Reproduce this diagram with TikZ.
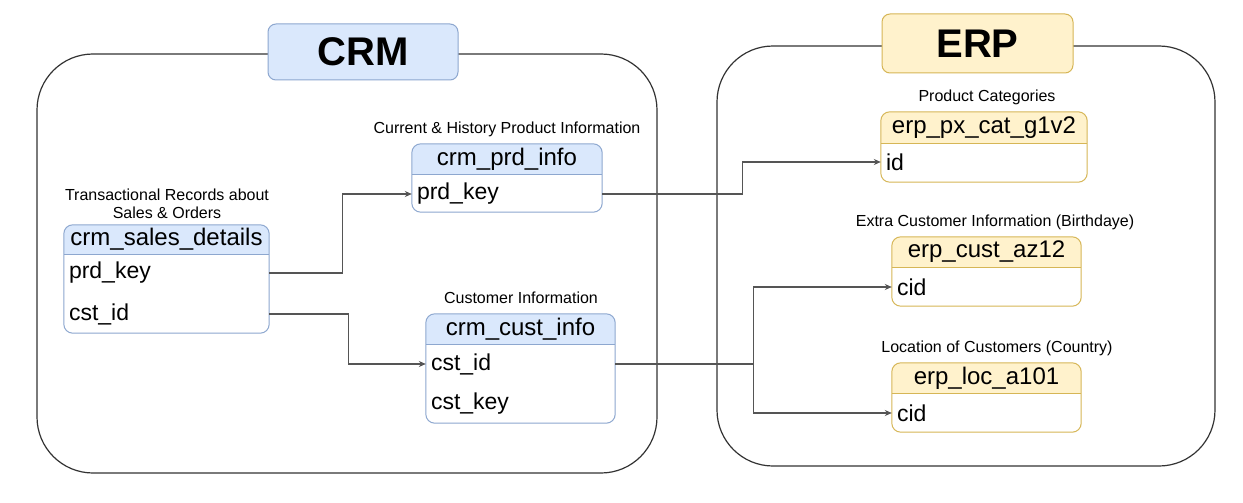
\documentclass[tikz,border=0pt]{standalone}
\usepackage{fontspec}
\setmainfont{Liberation Sans}
\usetikzlibrary{arrows.meta,calc}
\definecolor{bluefill}{HTML}{DAE8FC}
\definecolor{bluestroke}{HTML}{8DA7CF}
\definecolor{yelfill}{HTML}{FFF2CC}
\definecolor{yelstroke}{HTML}{D6B656}
\definecolor{conncol}{HTML}{555555}
\definecolor{boxcol}{HTML}{333333}
\tikzset{
  container/.style={draw=boxcol, line width=1.2pt, rounded corners=56pt, inner sep=0pt},
  titlebox/.style={rounded corners=8pt, line width=1pt, font=\fontsize{40}{44}\selectfont\bfseries, inner sep=0pt},
  hdrtext/.style={font=\fontsize{24}{28}\selectfont, inner sep=0pt},
  fieldtext/.style={font=\fontsize{23}{27}\selectfont, anchor=west, inner xsep=5pt, inner ysep=0pt},
  lbl/.style={font=\fontsize{16}{18.5}\selectfont, inner sep=0pt, align=center},
  conn/.style={draw=conncol, line width=1.4pt, -{Stealth[length=7pt,width=6pt]}},
  plainconn/.style={draw=conncol, line width=1.4pt},
}
% name, left, top, right, header bottom, bottom, fill, stroke, title
\newcommand{\dbtab}[9]{%
  \node[minimum width={#4-#2}, minimum height={#6-#3}, inner sep=0pt] (#1) at ({(#2+#4)/2},{(#3+#6)/2}) {};
  \begin{scope}
    \clip[rounded corners=9pt] (#1.north west) rectangle (#1.south east);
    \fill[#7] (#1.north west) rectangle (#1.east |- 0,#5);
  \end{scope}
  \draw[#8, line width=1pt] (#1.west |- 0,#5) -- (#1.east |- 0,#5);
  \draw[#8, line width=1pt, rounded corners=9pt] (#1.north west) rectangle (#1.south east);
  \node[hdrtext] (#1-h) at ({(#2+#4)/2},{(#3+#5)/2}) {#9};
}
\begin{document}
\begin{tikzpicture}[x=1pt, y=-1pt]
\useasboundingbox (0,0) rectangle (1243,503);
\fill[white] (0,0) rectangle (1243,503);

% containers
\node[container, minimum width=620, minimum height=419] (crmbox) at (347,263.5) {};
\node[container, minimum width=498, minimum height=420] (erpbox) at (966,256) {};

% titles
\node[titlebox, fill=bluefill, draw=bluestroke, minimum width=190, minimum height=56] (crmtitle) at (363,52) {CRM};
\node[titlebox, fill=yelfill, draw=yelstroke, minimum width=191, minimum height=59] (erptitle) at (977.5,43.5) {ERP};

% CRM tables
\dbtab{sales}{64}{225}{269}{254}{333}{bluefill}{bluestroke}{crm\_sales\_details}
\node[fieldtext] (sales-prd) at (sales.west |- 0,273) {prd\_key};
\node[fieldtext] (sales-cst) at (sales.west |- 0,314) {cst\_id};
\node[lbl] (sales-l) at (167,204) {Transactional Records about\\Sales \& Orders};

\dbtab{prd}{412}{144}{602}{174}{212}{bluefill}{bluestroke}{crm\_prd\_info}
\node[fieldtext] (prd-prd) at (prd.west |- 0,194) {prd\_key};
\node[lbl] (prd-l) at (507,129) {Current \& History Product Information};

\dbtab{cust}{426}{314}{615}{344}{423}{bluefill}{bluestroke}{crm\_cust\_info}
\node[fieldtext] (cust-cst) at (cust.west |- 0,364) {cst\_id};
\node[fieldtext] (cust-key) at (cust.west |- 0,404) {cst\_key};
\node[lbl] (cust-l) at (521,298) {Customer Information};

% ERP tables
\dbtab{px}{881}{112}{1087}{143}{182}{yelfill}{yelstroke}{erp\_px\_cat\_g1v2}
\node[fieldtext] (px-id) at (px.west |- 0,162) {id};
\node[lbl] (px-l) at (987,97) {Product Categories};

\dbtab{az}{892}{237}{1081}{267}{306}{yelfill}{yelstroke}{erp\_cust\_az12}
\node[fieldtext] (az-cid) at (az.west |- 0,287) {cid};
\node[lbl] (az-l) at (995,222) {Extra Customer Information (Birthdaye)};

\dbtab{loc}{892}{363}{1081}{393}{432}{yelfill}{yelstroke}{erp\_loc\_a101}
\node[fieldtext] (loc-cid) at (loc.west |- 0,413) {cid};
\node[lbl] (loc-l) at (997,348) {Location of Customers (Country)};

% connectors
\draw[conn] (sales-prd -| sales.east) -- ++(73,0) |- (prd-prd.west);
\draw[conn] (sales-cst -| sales.east) -- ++(79,0) |- (cust-cst.west);
\draw[conn] (prd-prd -| prd.east) -- ++(140,0) |- (px-id.west);
\draw[plainconn] (cust-cst -| cust.east) -- ++(138,0) coordinate (split);
\draw[conn] (split) |- (az-cid.west);
\draw[conn] (split) |- (loc-cid.west);
\end{tikzpicture}
\end{document}
